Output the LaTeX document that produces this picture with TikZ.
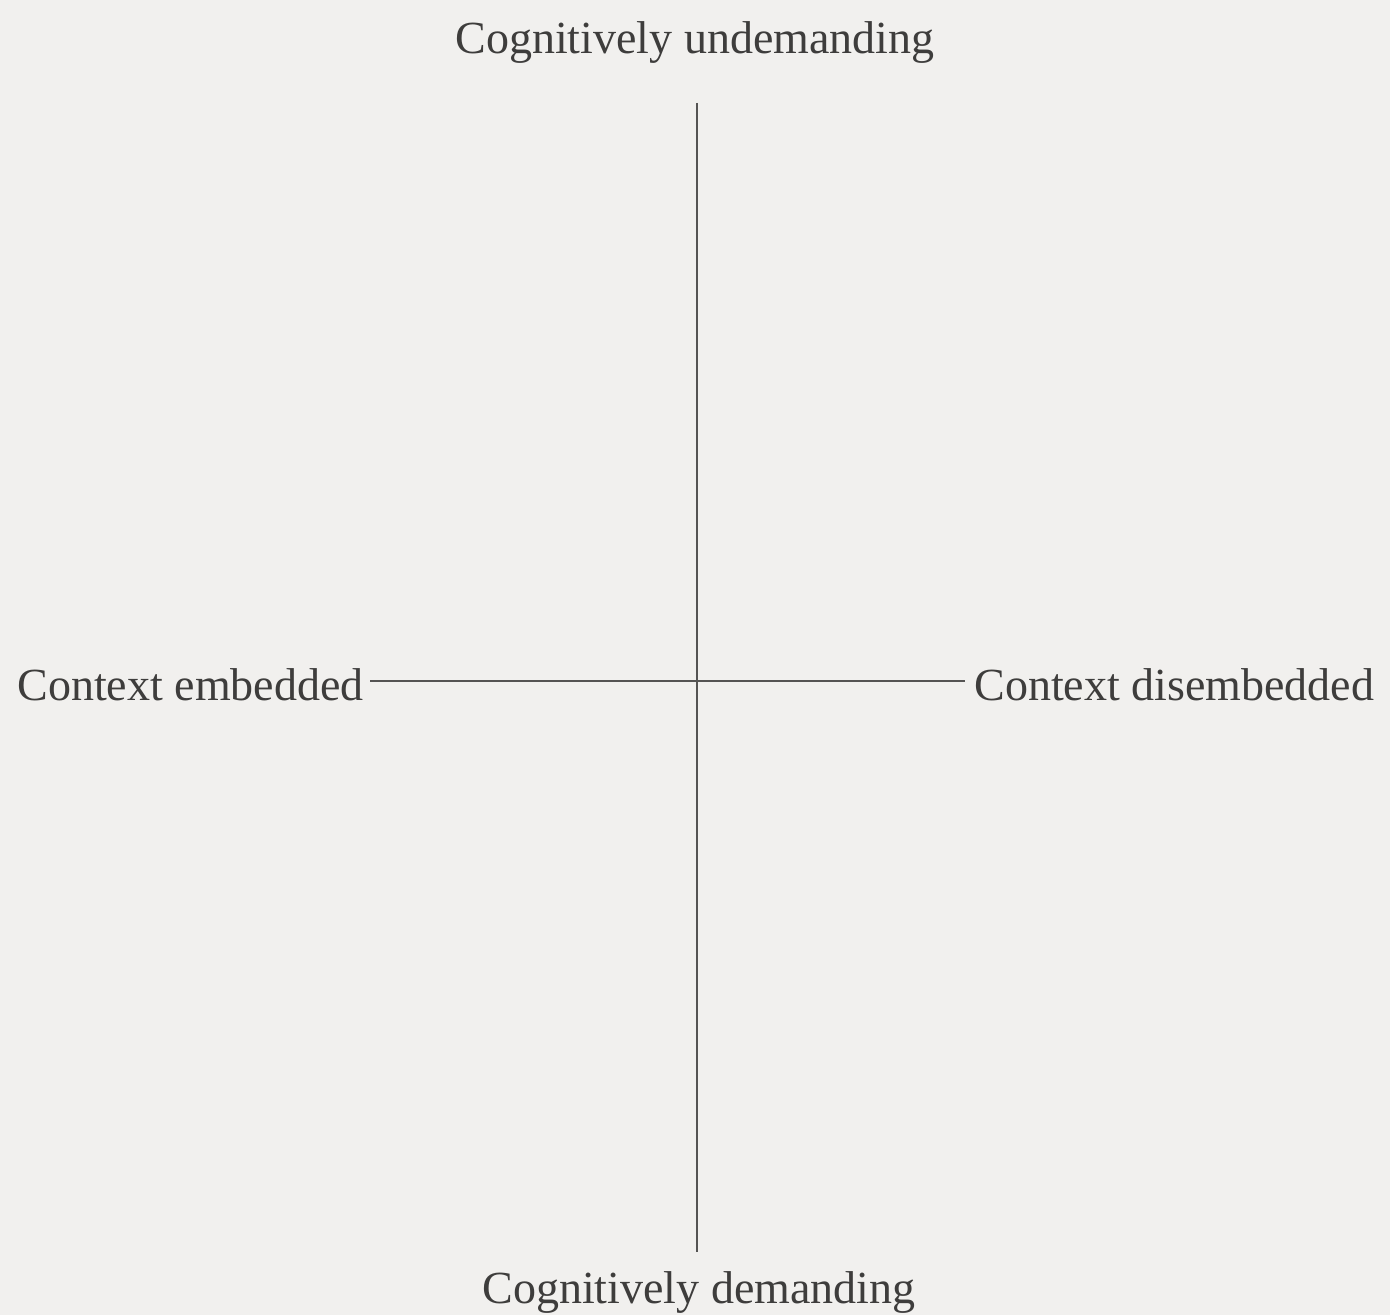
\documentclass[tikz,border=0pt]{standalone}
\usepackage{fontspec}
\setmainfont{Liberation Serif}
\begin{document}
\begin{tikzpicture}[x=0.5pt,y=-0.5pt,
  axislabel/.style={text=ink, font=\fontsize{23}{27}\selectfont, inner sep=0pt},
  axisline/.style={draw=axis, line width=1pt}]
\definecolor{paper}{HTML}{F1F0EE}
\definecolor{ink}{HTML}{3E3D3C}
\definecolor{axis}{HTML}{555453}
% page
\fill[paper] (0,0) rectangle (1390,1315);
\useasboundingbox (0,0) rectangle (1390,1315);
% labels at the four ends of the axes
\node[axislabel] (top) at (695,43) {Cognitively undemanding};
\node[axislabel] (bottom) at (699,1292) {Cognitively demanding};
\node[axislabel, anchor=east] (left) at (364,685) {Context embedded};
\node[axislabel, anchor=west] (right) at (974,685) {Context disembedded};
% axis ends
\coordinate (vtop) at (697,103);
\coordinate (vbot) at (697,1252);
\coordinate (hleft) at (370,681);
\coordinate (hright) at (965,681);
% axes
\draw[axisline] (vtop) -- (vbot);
\draw[axisline] (hleft) -- (hright);
\end{tikzpicture}
\end{document}
